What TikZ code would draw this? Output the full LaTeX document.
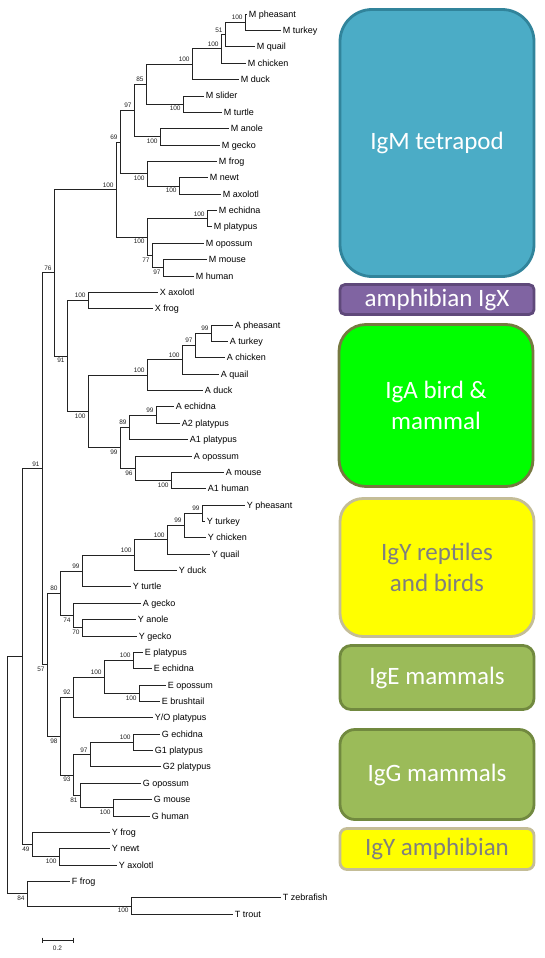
\documentclass[tikz,border=0pt]{standalone}
\usepackage{fontspec}
\setmainfont{Liberation Sans}
\newfontfamily\boitefont{Carlito}
\definecolor{trait}{RGB}{35,35,35}
\definecolor{bleuM}{HTML}{4BACC6}
\definecolor{bleuMb}{HTML}{31849B}
\definecolor{violetX}{HTML}{8064A2}
\definecolor{violetXb}{HTML}{5F497A}
\definecolor{vertA}{HTML}{00FF00}
\definecolor{vertAb}{RGB}{118,121,64}
\definecolor{jauneY}{HTML}{FFFF00}
\definecolor{jauneYb}{HTML}{C4BD97}
\definecolor{grisY}{HTML}{7F7F7F}
\definecolor{olive}{HTML}{9BBB59}
\definecolor{oliveb}{HTML}{71893F}

\begin{document}
\begin{tikzpicture}[x=1pt, y=-1pt]
			\tikzset{feuille/.style={anchor=west, inner sep=1.6pt, text height=7pt, text depth=0.6pt, font=\fontsize{9}{10}\selectfont},
				boot/.style={inner sep=2.2pt, text=trait, font=\fontsize{6.5}{7}\selectfont},
				branche/.style={draw=trait, line width=0.6pt},
				boite/.style={rounded corners=#1, line width=2.8pt, minimum width=194pt, align=center, text=white, font=\boitefont\fontsize{25}{31}\selectfont}};

			\useasboundingbox (0,0) rectangle (545,958);

			\node[feuille] (mphe) at (247,  14.0) {M pheasant};
			\node[feuille] (mtur) at (281,  30.4) {M turkey};
			\node[feuille] (mqua) at (255,  46.7) {M quail};
			\node[feuille] (mchi) at (246,  63.1) {M chicken};
			\node[feuille] (mduc) at (239,  79.5) {M duck};
			\node[feuille] (msli) at (204,  95.8) {M slider};
			\node[feuille] (mtrt) at (222, 112.2) {M turtle};
			\node[feuille] (mano) at (229, 128.5) {M anole};
			\node[feuille] (mgec) at (220, 144.9) {M gecko};
			\node[feuille] (mfro) at (217, 161.3) {M frog};
			\node[feuille] (mnew) at (208, 177.6) {M newt};
			\node[feuille] (maxo) at (221, 194.0) {M axolotl};
			\node[feuille] (mech) at (217, 210.4) {M echidna};
			\node[feuille] (mpla) at (212, 226.7) {M platypus};
			\node[feuille] (mopo) at (204, 243.1) {M opossum};
			\node[feuille] (mmou) at (207, 259.5) {M mouse};
			\node[feuille] (mhum) at (194, 275.8) {M human};
			\node[feuille] (xaxo) at (158, 292.2) {X axolotl};
			\node[feuille] (xfro) at (153, 308.5) {X frog};
			\node[feuille] (aphe) at (233, 324.9) {A pheasant};
			\node[feuille] (atur) at (228, 341.3) {A turkey};
			\node[feuille] (achi) at (225, 357.6) {A chicken};
			\node[feuille] (aqua) at (219, 374.0) {A quail};
			\node[feuille] (aduc) at (203, 390.4) {A duck};
			\node[feuille] (aech) at (174, 406.7) {A echidna};
			\node[feuille] (apl2) at (180, 423.1) {A2 platypus};
			\node[feuille] (apl1) at (188, 439.5) {A1 platypus};
			\node[feuille] (aopo) at (192, 455.8) {A opossum};
			\node[feuille] (amou) at (224, 472.2) {A mouse};
			\node[feuille] (ahu1) at (206, 488.5) {A1 human};
			\node[feuille] (yphe) at (245, 504.9) {Y pheasant};
			\node[feuille] (ytur) at (205, 521.3) {Y turkey};
			\node[feuille] (ychi) at (206, 537.6) {Y chicken};
			\node[feuille] (yqua) at (210, 554.0) {Y quail};
			\node[feuille] (yduc) at (177, 570.4) {Y duck};
			\node[feuille] (ytrt) at (131, 586.7) {Y turtle};
			\node[feuille] (agec) at (141, 603.1) {A gecko};
			\node[feuille] (yano) at (136, 619.5) {Y anole};
			\node[feuille] (ygec) at (137, 635.8) {Y gecko};
			\node[feuille] (epla) at (143, 652.2) {E platypus};
			\node[feuille] (eech) at (152, 668.5) {E echidna};
			\node[feuille] (eopo) at (166, 684.9) {E opossum};
			\node[feuille] (ebru) at (160, 701.3) {E brushtail};
			\node[feuille] (yopl) at (153, 717.6) {Y/O platypus};
			\node[feuille] (gech) at (160, 734.0) {G echidna};
			\node[feuille] (gpl1) at (153, 750.4) {G1 platypus};
			\node[feuille] (gpl2) at (161, 766.7) {G2 platypus};
			\node[feuille] (gopo) at (141, 783.1) {G opossum};
			\node[feuille] (gmou) at (152, 799.5) {G mouse};
			\node[feuille] (ghum) at (150, 815.8) {G human};
			\node[feuille] (yfro) at (110, 832.2) {Y frog};
			\node[feuille] (ynew) at (110, 848.5) {Y newt};
			\node[feuille] (yaxo) at (117, 864.9) {Y axolotl};
			\node[feuille] (ffro) at ( 70, 881.3) {F frog};
			\node[feuille] (tzeb) at (281, 897.6) {T zebrafish};
			\node[feuille] (ttro) at (233, 914.0) {T trout};

			\coordinate[label={[boot]above left:100}] (m1)  at (245,  22.2);
			\coordinate[label={[boot]above left:51}]  (m2)  at (225,  34.5);
			\coordinate[label={[boot]above left:100}] (m3)  at (221,  48.8);
			\coordinate[label={[boot]above left:100}] (m4)  at (192,  64.1);
			\coordinate[label={[boot]below left:100}] (m5)  at (183, 104.0);
			\coordinate[label={[boot]above left:85}]  (m6)  at (146,  84.1);
			\coordinate[label={[boot]below left:100}] (m7)  at (160, 136.7);
			\coordinate[label={[boot]above left:97}]  (m8)  at (134, 110.4);
			\coordinate[label={[boot]below left:100}] (m9)  at (179, 185.8);
			\coordinate[label={[boot]below left:100}] (m10) at (147, 173.6);
			\coordinate[label={[boot]above left:69}]  (m11) at (120, 142.0);
			\coordinate[label={[boot]above left:100}] (m12) at (207, 218.6);
			\coordinate[label={[boot]below left:97}]  (m13) at (163, 267.7);
			\coordinate[label={[boot]below left:77}]  (m14) at (152, 255.4);
			\coordinate[label={[boot]below left:100}] (m15) at (147, 237.0);
			\coordinate[label={[boot]above left:100}] (m16) at (116, 189.5);
			\coordinate[label={[boot]above left:76}]  (r1)  at ( 54, 272.7);

			\coordinate[label={[boot]above left:100}] (x1)  at ( 88, 300.4);
			\coordinate[label={[boot]above left:99}]  (a1)  at (211, 333.1);
			\coordinate[label={[boot]above left:97}]  (a2)  at (195, 345.4);
			\coordinate[label={[boot]above left:100}] (a3)  at (182, 359.7);
			\coordinate[label={[boot]above left:100}] (a4)  at (147, 375.1);
			\coordinate[label={[boot]above left:99}]  (a5)  at (156, 414.9);
			\coordinate[label={[boot]above left:89}]  (a6)  at (129, 427.2);
			\coordinate[label={[boot]below left:100}] (a7)  at (171, 480.4);
			\coordinate[label={[boot]below left:96}]  (a8)  at (135, 468.1);
			\coordinate[label={[boot]below left:99}]  (a9)  at (120, 447.7);
			\coordinate[label={[boot]below left:100}] (a10) at ( 88, 411.4);
			\coordinate[label={[boot]below left:91}]  (r2)  at ( 67, 355.9);
			\coordinate[label={[boot]above left:91}]  (r3)  at ( 42, 468.7);

			\coordinate[label={[boot]above left:99}]  (y1)  at (202, 513.1);
			\coordinate[label={[boot]above left:99}]  (y2)  at (184, 525.4);
			\coordinate[label={[boot]above left:100}] (y3)  at (167, 539.7);
			\coordinate[label={[boot]above left:100}] (y4)  at (134, 555.1);
			\coordinate[label={[boot]above left:99}]  (y5)  at ( 82, 570.9);
			\coordinate[label={[boot]below left:70}]  (y6)  at ( 82, 627.7);
			\coordinate[label={[boot]below left:74}]  (y7)  at ( 73, 615.4);
			\coordinate[label={[boot]above left:80}]  (y8)  at ( 60, 593.2);
			\coordinate[label={[boot]above left:100}] (e1)  at (133, 660.4);
			\coordinate[label={[boot]below left:100}] (e2)  at (139, 693.1);
			\coordinate[label={[boot]above left:100}] (e3)  at (104, 676.8);
			\coordinate[label={[boot]above left:92}]  (e4)  at ( 73, 697.2);
			\coordinate[label={[boot]above left:100}] (g1)  at (133, 742.2);
			\coordinate[label={[boot]above left:97}]  (g2)  at ( 90, 754.5);
			\coordinate[label={[boot]below left:100}] (g3)  at (113, 807.7);
			\coordinate[label={[boot]below left:81}]  (g4)  at ( 80, 795.4);
			\coordinate[label={[boot]below left:93}]  (g5)  at ( 73, 775.0);
			\coordinate[label={[boot]below left:98}]  (r4)  at ( 60, 736.1);
			\coordinate[label={[boot]below left:57}]  (r5)  at ( 47, 664.7);
			\coordinate                               (r6)  at ( 22, 656.6);
			\coordinate[label={[boot]below left:100}] (w1)  at ( 59, 856.7);
			\coordinate[label={[boot]below left:49}]  (w2)  at ( 32, 844.5);
			\coordinate[label={[boot]below left:100}] (f1)  at (131, 905.8);
			\coordinate[label={[boot]below left:84}]  (f2)  at ( 27, 893.6);
			\coordinate                               (r0)  at (  7, 775.1);

			\draw[branche] (m1) |- (mphe) (m1) |- (mtur);
			\draw[branche] (m2) |- (m1) (m2) |- (mqua);
			\draw[branche] (m3) |- (m2) (m3) |- (mchi);
			\draw[branche] (m4) |- (m3) (m4) |- (mduc);
			\draw[branche] (m5) |- (msli) (m5) |- (mtrt);
			\draw[branche] (m6) |- (m4) (m6) |- (m5);
			\draw[branche] (m7) |- (mano) (m7) |- (mgec);
			\draw[branche] (m8) |- (m6) (m8) |- (m7);
			\draw[branche] (m9) |- (mnew) (m9) |- (maxo);
			\draw[branche] (m10) |- (mfro) (m10) |- (m9);
			\draw[branche] (m11) |- (m8) (m11) |- (m10);
			\draw[branche] (m12) |- (mech) (m12) |- (mpla);
			\draw[branche] (m13) |- (mmou) (m13) |- (mhum);
			\draw[branche] (m14) |- (mopo) (m14) |- (m13);
			\draw[branche] (m15) |- (m12) (m15) |- (m14);
			\draw[branche] (m16) |- (m11) (m16) |- (m15);
			\draw[branche] (r1) |- (m16) (r1) |- (r2);
			\draw[branche] (x1) |- (xaxo) (x1) |- (xfro);
			\draw[branche] (a1) |- (aphe) (a1) |- (atur);
			\draw[branche] (a2) |- (a1) (a2) |- (achi);
			\draw[branche] (a3) |- (a2) (a3) |- (aqua);
			\draw[branche] (a4) |- (a3) (a4) |- (aduc);
			\draw[branche] (a5) |- (aech) (a5) |- (apl2);
			\draw[branche] (a6) |- (a5) (a6) |- (apl1);
			\draw[branche] (a7) |- (amou) (a7) |- (ahu1);
			\draw[branche] (a8) |- (aopo) (a8) |- (a7);
			\draw[branche] (a9) |- (a6) (a9) |- (a8);
			\draw[branche] (a10) |- (a4) (a10) |- (a9);
			\draw[branche] (r2) |- (x1) (r2) |- (a10);
			\draw[branche] (r3) |- (r1) (r3) |- (r5);
			\draw[branche] (y1) |- (yphe) (y1) |- (ytur);
			\draw[branche] (y2) |- (y1) (y2) |- (ychi);
			\draw[branche] (y3) |- (y2) (y3) |- (yqua);
			\draw[branche] (y4) |- (y3) (y4) |- (yduc);
			\draw[branche] (y5) |- (y4) (y5) |- (ytrt);
			\draw[branche] (y6) |- (yano) (y6) |- (ygec);
			\draw[branche] (y7) |- (agec) (y7) |- (y6);
			\draw[branche] (y8) |- (y5) (y8) |- (y7);
			\draw[branche] (e1) |- (epla) (e1) |- (eech);
			\draw[branche] (e2) |- (eopo) (e2) |- (ebru);
			\draw[branche] (e3) |- (e1) (e3) |- (e2);
			\draw[branche] (e4) |- (e3) (e4) |- (yopl);
			\draw[branche] (g1) |- (gech) (g1) |- (gpl1);
			\draw[branche] (g2) |- (g1) (g2) |- (gpl2);
			\draw[branche] (g3) |- (gmou) (g3) |- (ghum);
			\draw[branche] (g4) |- (gopo) (g4) |- (g3);
			\draw[branche] (g5) |- (g2) (g5) |- (g4);
			\draw[branche] (r4) |- (e4) (r4) |- (g5);
			\draw[branche] (r5) |- (y8) (r5) |- (r4);
			\draw[branche] (r6) |- (r3) (r6) |- (w2);
			\draw[branche] (w1) |- (ynew) (w1) |- (yaxo);
			\draw[branche] (w2) |- (yfro) (w2) |- (w1);
			\draw[branche] (f1) |- (tzeb) (f1) |- (ttro);
			\draw[branche] (f2) |- (ffro) (f2) |- (f1);
			\draw[branche] (r0) |- (r6) (r0) |- (f2);

			\coordinate (e0g) at (42, 940);
			\coordinate (e0d) at (73, 940);
			\draw[branche] (e0g) -- (e0d) ([yshift=2.5pt]e0g) -- ([yshift=-2.5pt]e0g) ([yshift=2.5pt]e0d) -- ([yshift=-2.5pt]e0d);
			\node[boot] (echelle) at (57.5, 948) {0.2};

			\node[boite=32pt, fill=bleuM,   draw=bleuMb,   minimum height=267pt] (igm) at (437, 143.0) {IgM tetrapod};
			\node[boite=5pt,  fill=violetX, draw=violetXb, minimum height=30pt]  (igx) at (437, 299.5) {amphibian IgX};
			\node[boite=27pt, fill=vertA,   draw=vertAb,   minimum height=162pt] (iga) at (436, 405.5) {IgA bird \&\\mammal};
			\node[boite=23pt, fill=jauneY,  draw=jauneYb,  minimum height=138pt, text=grisY] (igyr) at (437, 567.5) {IgY reptiles\\and birds};
			\node[boite=11pt, fill=olive,   draw=oliveb,   minimum height=64pt]  (ige) at (437, 677.5) {IgE mammals};
			\node[boite=15pt, fill=olive,   draw=oliveb,   minimum height=90pt]  (igg) at (437, 774.5) {IgG mammals};
			\node[boite=7pt,  fill=jauneY,  draw=jauneYb,  minimum height=41pt, text=grisY] (igya) at (437, 849.0) {IgY amphibian};

		\end{tikzpicture}
\end{document}
